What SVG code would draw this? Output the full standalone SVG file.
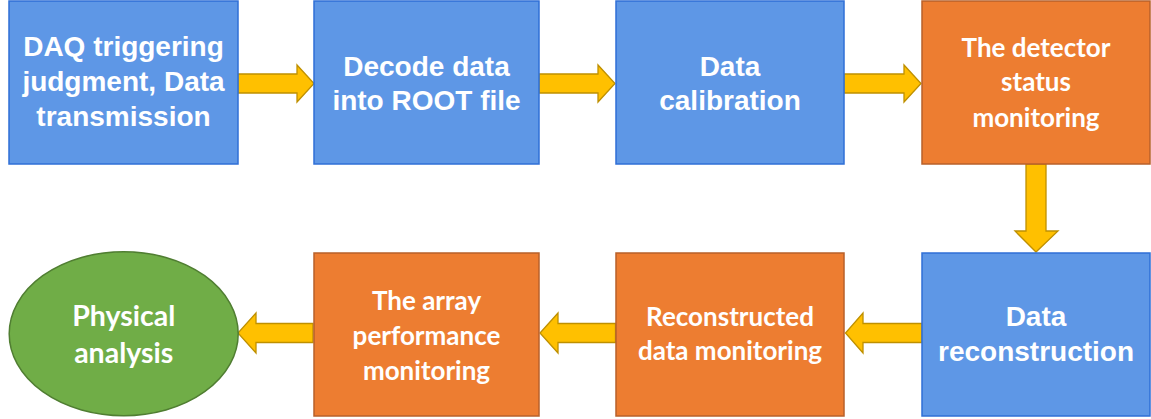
<svg xmlns="http://www.w3.org/2000/svg" width="1151" height="419" viewBox="0 0 1151 419">
<style>
.blue{fill:#5E97E6;stroke:#2F6FD6;stroke-width:1.5}
.orange{fill:#ED7D31;stroke:#B8602A;stroke-width:1.5}
.green{fill:#70AD47;stroke:#507E32;stroke-width:1.5}
.arrow{fill:#FFC000;stroke:#BF9000;stroke-width:1.3;stroke-linejoin:miter}
.ta{font-family:"Liberation Sans",Arial,sans-serif;font-weight:bold;font-size:28px;fill:#FFFFFF;text-anchor:middle}
.tc{font-family:Lato,"Open Sans",sans-serif;font-weight:bold;font-size:26px;fill:#FFFFFF;text-anchor:middle}
.te{font-size:28.5px}
</style>
<rect width="1151" height="419" fill="#FFFFFF"/>
<g id="connectors">
<path class="arrow" d="M238,74 H297 V65 L314,83.5 L297,102 V93 H238 Z"/>
<path class="arrow" d="M539,74 H598 V65 L615,83.5 L598,102 V93 H539 Z"/>
<path class="arrow" d="M844,74 H904 V65 L921,83.5 L904,102 V93 H844 Z"/>
<path class="arrow" d="M1026,164 V231 H1015 L1036,252 L1058,231 H1046 V164 Z"/>
<path class="arrow" d="M922,323.5 H863 V313 L845.5,333 L863,353 V342.5 H922 Z"/>
<path class="arrow" d="M615.5,323.5 H558 V313 L540,333 L558,353 V342.5 H615.5 Z"/>
<path class="arrow" d="M313,323.5 H256 V313 L238,333 L256,353 V342.5 H313 Z"/>
</g>
<g id="node1">
<rect class="blue" x="9" y="1" width="229" height="163"/>
<text class="ta" x="123.5" y="56">DAQ triggering</text>
<text class="ta" x="123.5" y="91">judgment, Data</text>
<text class="ta" x="123.5" y="126">transmission</text>
</g>
<g id="node2">
<rect class="blue" x="314" y="1" width="225" height="163"/>
<text class="ta" x="426.5" y="76">Decode data</text>
<text class="ta" x="426.5" y="110">into ROOT file</text>
</g>
<g id="node3">
<rect class="blue" x="616" y="1" width="228" height="163"/>
<text class="ta" x="730" y="76">Data</text>
<text class="ta" x="730" y="110">calibration</text>
</g>
<g id="node4">
<rect class="orange" x="922" y="1" width="228" height="163"/>
<text class="tc" x="1036" y="57">The detector</text>
<text class="tc" x="1036" y="91">status</text>
<text class="tc" x="1036" y="127">monitoring</text>
</g>
<g id="node5">
<rect class="blue" x="922" y="253" width="228" height="163"/>
<text class="ta" x="1036" y="326">Data</text>
<text class="ta" x="1036" y="361">reconstruction</text>
</g>
<g id="node6">
<rect class="orange" x="616" y="253" width="228" height="163"/>
<text class="tc" x="730" y="326">Reconstructed</text>
<text class="tc" x="730" y="360">data monitoring</text>
</g>
<g id="node7">
<rect class="orange" x="314" y="253" width="225" height="163"/>
<text class="tc" x="426.5" y="310">The array</text>
<text class="tc" x="426.5" y="345">performance</text>
<text class="tc" x="426.5" y="380">monitoring</text>
</g>
<g id="node8">
<ellipse class="green" cx="123.7" cy="333.7" rx="114.5" ry="82"/>
<text class="tc te" x="123.7" y="326">Physical</text>
<text class="tc te" x="123.7" y="363">analysis</text>
</g>
</svg>
